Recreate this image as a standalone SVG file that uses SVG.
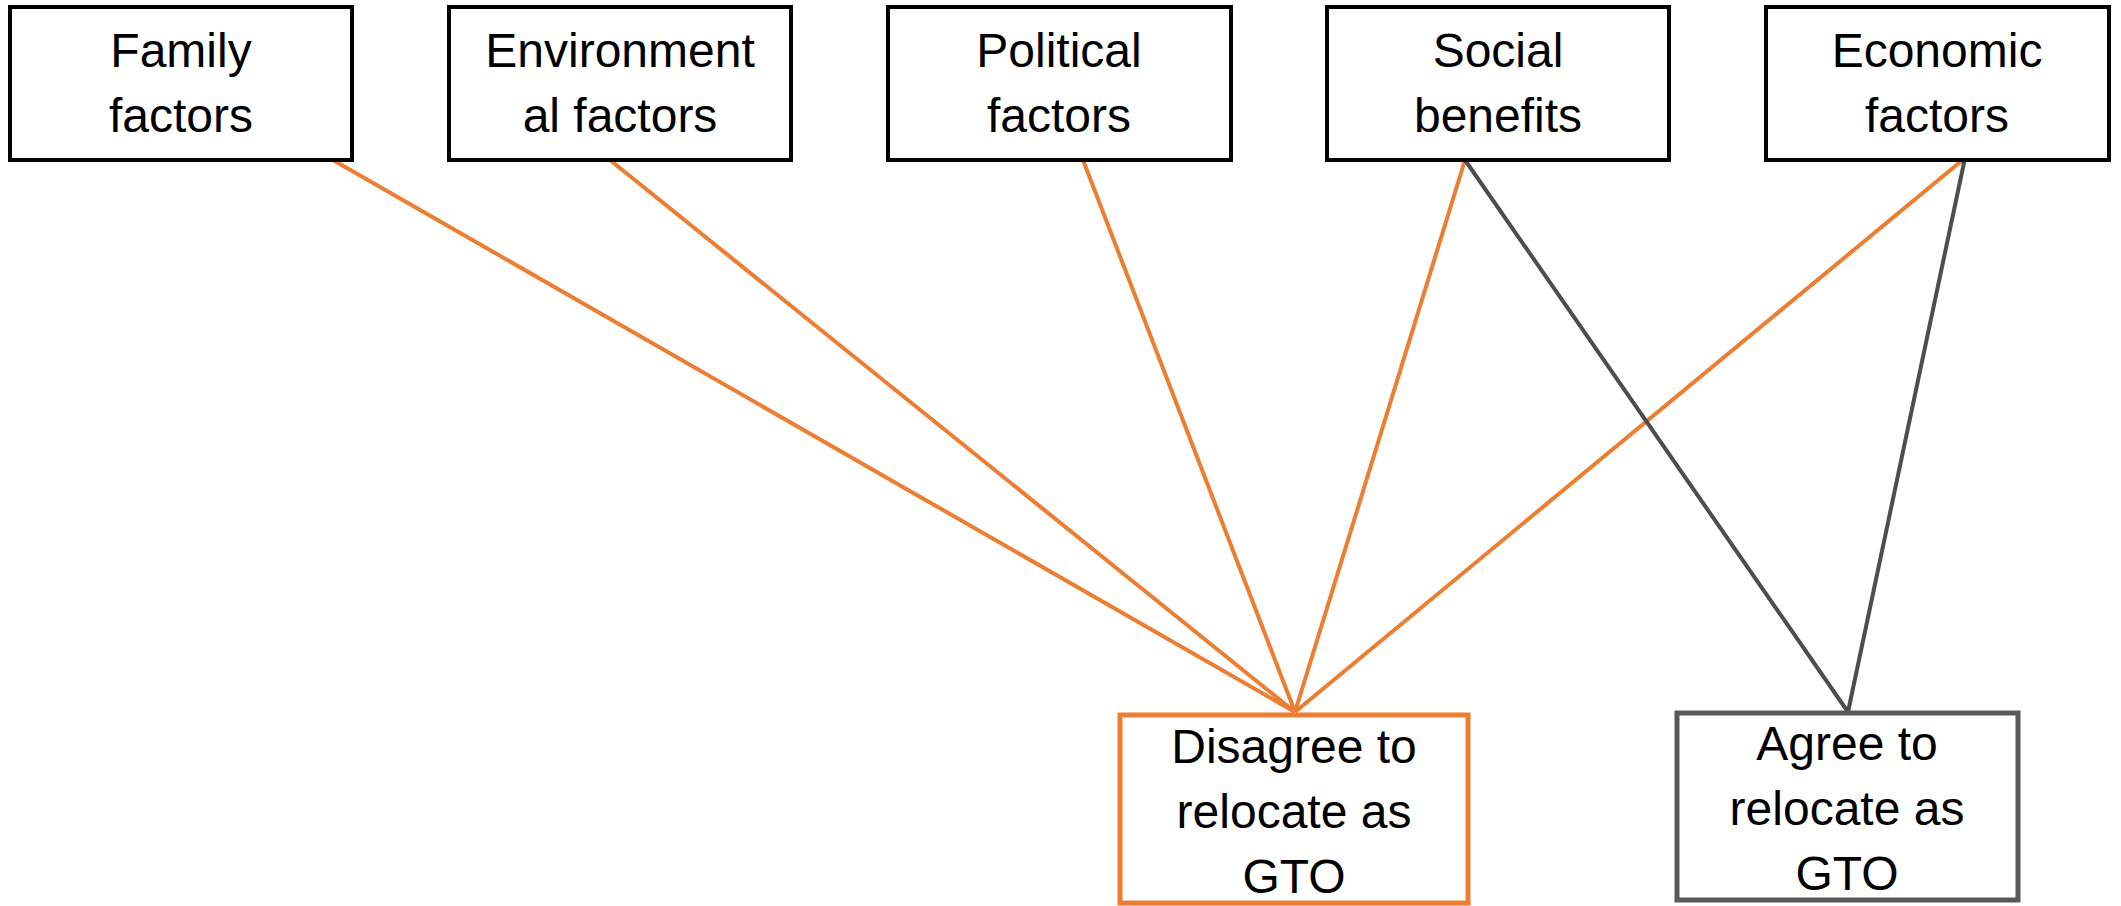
<svg xmlns="http://www.w3.org/2000/svg" width="2121" height="906" viewBox="0 0 2121 906">
<style>
.box{fill:#ffffff;stroke:#000000;stroke-width:4}
.dis{fill:#ffffff;stroke:#ED7D31;stroke-width:5}
.agr{fill:#ffffff;stroke:#595959;stroke-width:5}
.t{font-family:"Liberation Sans",Arial,sans-serif;font-size:48px;fill:#000000;text-anchor:middle}
.or{stroke:#ED7D31;stroke-width:4;fill:none}
.gr{stroke:#4D4D4D;stroke-width:4;fill:none}
</style>
<rect width="2121" height="906" fill="#ffffff"/>
<g id="connectors">
<line class="or" x1="333" y1="160" x2="1295" y2="712"/>
<line class="or" x1="610" y1="160" x2="1295" y2="712"/>
<line class="or" x1="1083" y1="160" x2="1295" y2="712"/>
<line class="or" x1="1465" y1="160" x2="1295" y2="712"/>
<line class="or" x1="1965" y1="158" x2="1295" y2="712"/>
<line class="gr" x1="1465" y1="160" x2="1848" y2="712"/>
<line class="gr" x1="1965" y1="158" x2="1848" y2="712"/>
</g>
<g id="family">
<rect class="box" x="10" y="7" width="342" height="153"/>
<text class="t" x="181" y="67">Family</text>
<text class="t" x="181" y="132">factors</text>
</g>
<g id="environmental">
<rect class="box" x="449" y="7" width="342" height="153"/>
<text class="t" x="620" y="67">Environment</text>
<text class="t" x="620" y="132">al factors</text>
</g>
<g id="political">
<rect class="box" x="888" y="7" width="343" height="153"/>
<text class="t" x="1059" y="67">Political</text>
<text class="t" x="1059" y="132">factors</text>
</g>
<g id="social">
<rect class="box" x="1327" y="7" width="342" height="153"/>
<text class="t" x="1498" y="67">Social</text>
<text class="t" x="1498" y="132">benefits</text>
</g>
<g id="economic">
<rect class="box" x="1766" y="7" width="343" height="153"/>
<text class="t" x="1937" y="67">Economic</text>
<text class="t" x="1937" y="132">factors</text>
</g>
<g id="disagree">
<rect class="dis" x="1120" y="715" width="348" height="188"/>
<text class="t" x="1294" y="763">Disagree to</text>
<text class="t" x="1294" y="828">relocate as</text>
<text class="t" x="1294" y="893">GTO</text>
</g>
<g id="agree">
<rect class="agr" x="1677" y="713" width="341" height="187"/>
<text class="t" x="1847" y="760">Agree to</text>
<text class="t" x="1847" y="825">relocate as</text>
<text class="t" x="1847" y="890">GTO</text>
</g>
</svg>
